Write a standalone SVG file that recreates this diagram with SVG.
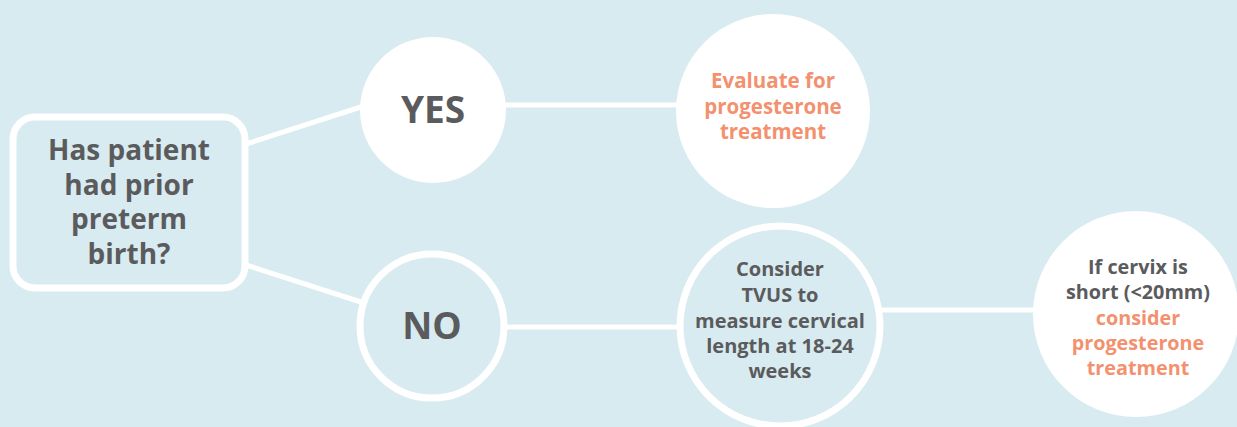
<svg xmlns="http://www.w3.org/2000/svg" width="1237" height="427" viewBox="0 0 1237 427">
  <style>
    .bg { fill: #d7ebf0; }
    .link { stroke: #ffffff; stroke-width: 5; fill: none; }
    .solid { fill: #ffffff; }
    .ring { fill: #d7ebf0; stroke: #ffffff; stroke-width: 7; }
    .t { font-family: "Open Sans", "Noto Sans", sans-serif; font-weight: 700; text-anchor: middle; }
    .grey { fill: #5b5b5d; }
    .accent { fill: #f3916f; }
  </style>
  <rect class="bg" x="0" y="0" width="1237" height="427"/>

  <g id="connectors">
    <line class="link" x1="246" y1="144" x2="364" y2="106"/>
    <line class="link" x1="246" y1="265" x2="364" y2="303"/>
    <line class="link" x1="500" y1="105" x2="680" y2="105"/>
    <line class="link" x1="500" y1="327" x2="680" y2="327"/>
    <line class="link" x1="880" y1="310" x2="1036" y2="310"/>
  </g>

  <g id="question">
    <rect class="ring" x="13" y="117" width="232" height="171" rx="22"/>
    <text class="t grey" font-size="28" x="129" y="160">Has patient</text>
    <text class="t grey" font-size="28" x="129" y="195">had prior</text>
    <text class="t grey" font-size="28" x="129" y="229">preterm</text>
    <text class="t grey" font-size="28" x="129" y="264">birth?</text>
  </g>

  <g id="yes">
    <circle class="solid" cx="433" cy="110" r="73"/>
    <text class="t grey" font-size="37" x="433" y="123">YES</text>
  </g>

  <g id="no">
    <circle class="ring" cx="432" cy="326" r="72"/>
    <text class="t grey" font-size="37" x="432" y="339">NO</text>
  </g>

  <g id="evaluate">
    <circle class="solid" cx="773" cy="111" r="97"/>
    <text class="t accent" font-size="20.5" x="773" y="88">Evaluate for</text>
    <text class="t accent" font-size="20.5" x="773" y="114">progesterone</text>
    <text class="t accent" font-size="20.5" x="773" y="139">treatment</text>
  </g>

  <g id="tvus">
    <circle class="ring" cx="780" cy="326" r="100"/>
    <text class="t grey" font-size="20" x="780" y="276">Consider</text>
    <text class="t grey" font-size="20" x="780" y="302">TVUS to</text>
    <text class="t grey" font-size="20" x="780" y="328">measure cervical</text>
    <text class="t grey" font-size="20" x="780" y="353">length at 18-24</text>
    <text class="t grey" font-size="20" x="780" y="378">weeks</text>
  </g>

  <g id="short-cervix">
    <circle class="solid" cx="1136" cy="314" r="103"/>
    <text class="t grey" font-size="19.8" x="1138" y="274">If cervix is</text>
    <text class="t grey" font-size="19.8" x="1138" y="299">short (&lt;20mm)</text>
    <text class="t accent" font-size="19.8" x="1138" y="325">consider</text>
    <text class="t accent" font-size="19.8" x="1138" y="350">progesterone</text>
    <text class="t accent" font-size="19.8" x="1138" y="375">treatment</text>
  </g>
</svg>
